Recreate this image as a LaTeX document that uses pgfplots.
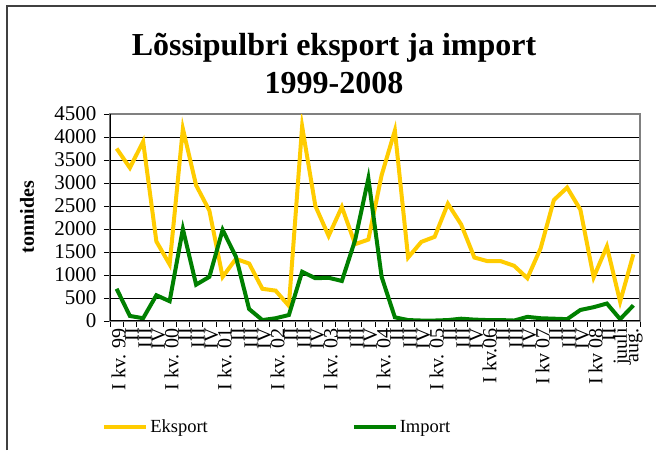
\documentclass[border=0pt]{standalone}
\usepackage{fontspec}
\setmainfont{Liberation Serif}
\usepackage{pgfplots}
\pgfplotsset{compat=1.18}
\definecolor{eksp}{HTML}{FFCC00}
\definecolor{impo}{HTML}{008000}
\begin{document}
\begin{tikzpicture}[x=1pt,y=1pt]
\useasboundingbox (0,0) rectangle (656,450);
\draw[black!75, line width=1.5pt] (7,0) -- (7,444) -- (656,444);
\node[font=\fontsize{32}{38}\selectfont\bfseries, align=center] at (334,386) {Lõssipulbri eksport ja import\\1999-2008};
\node[font=\fontsize{20}{22}\selectfont\bfseries, rotate=90] at (27,233) {tonnides};
\begin{axis}[
  at={(110pt,129pt)}, anchor=south west,
  scale only axis, width=530pt, height=207pt,
  xmin=-0.5, xmax=39.5, ymin=0, ymax=4500,
  ytick={0,500,...,4500},
  xtick={0,...,39},
  xticklabels={I kv. 99,II,III,IV,I kv. 00,II,III,IV,I kv. 01,II,III,IV,I kv. 02,II,III,IV,I kv. 03,II,III,IV,I kv. 04,II,III,IV,I kv. 05,II,III,IV,I kv.06,II,III,IV,I kv 07,II,III,IV,I kv 08,II,juuli,aug.},
  minor xtick={-0.5,0.5,...,39.5},
  major x tick style={draw=none},
  minor tick length=6pt, major tick length=6pt,
  tick align=outside, xtick pos=bottom, ytick pos=left,
  tick style={black, line width=0.8pt},
  ymajorgrids, grid style={black, line width=0.8pt},
  axis line style={draw=black!50, line width=1.5pt},
  /pgf/number format/assume math mode=true,
  /pgf/number format/1000 sep={},
  yticklabel style={font=\fontsize{21}{22}\selectfont, xshift=-4pt},
  xticklabel style={font=\fontsize{20}{21}\selectfont, rotate=90, anchor=east, inner sep=1pt, yshift=-2pt},
  legend style={draw=none, fill=none, at={(rel axis cs:-0.015,-0.512)}, anchor=west, font=\fontsize{18.5}{20}\selectfont, inner sep=0pt},
  legend columns=2,
  legend cell align=left,
  /tikz/every even column/.append style={column sep=142pt},
  legend image code/.code={\draw[#1] (0pt,0pt) -- (42pt,0pt);},
]
\addplot[eksp, line width=4pt, line join=miter] coordinates {
(0,3750) (1,3330) (2,3900) (3,1730) (4,1230) (5,4180) (6,2950) (7,2400) (8,960) (9,1350)
(10,1250) (11,700) (12,660) (13,330) (14,4230) (15,2500) (16,1850) (17,2480) (18,1670) (19,1770)
(20,3170) (21,4140) (22,1380) (23,1720) (24,1830) (25,2550) (26,2100) (27,1380) (28,1300) (29,1300)
(30,1200) (31,930) (32,1580) (33,2630) (34,2900) (35,2420) (36,950) (37,1620) (38,420) (39,1450)};
\addlegendentry{Eksport}
\addplot[impo, line width=4pt, line join=miter] coordinates {
(0,700) (1,110) (2,60) (3,560) (4,430) (5,2000) (6,790) (7,960) (8,1980) (9,1400)
(10,260) (11,20) (12,60) (13,130) (14,1070) (15,930) (16,940) (17,870) (18,1760) (19,3100)
(20,960) (21,80) (22,20) (23,10) (24,10) (25,20) (26,50) (27,30) (28,20) (29,20)
(30,10) (31,90) (32,60) (33,50) (34,40) (35,240) (36,300) (37,380) (38,40) (39,340)};
\addlegendentry{Import}
\draw[black, line width=1.2pt] (rel axis cs:0,1) -- (rel axis cs:0,0) -- (rel axis cs:1,0);
\end{axis}
\end{tikzpicture}
\end{document}
